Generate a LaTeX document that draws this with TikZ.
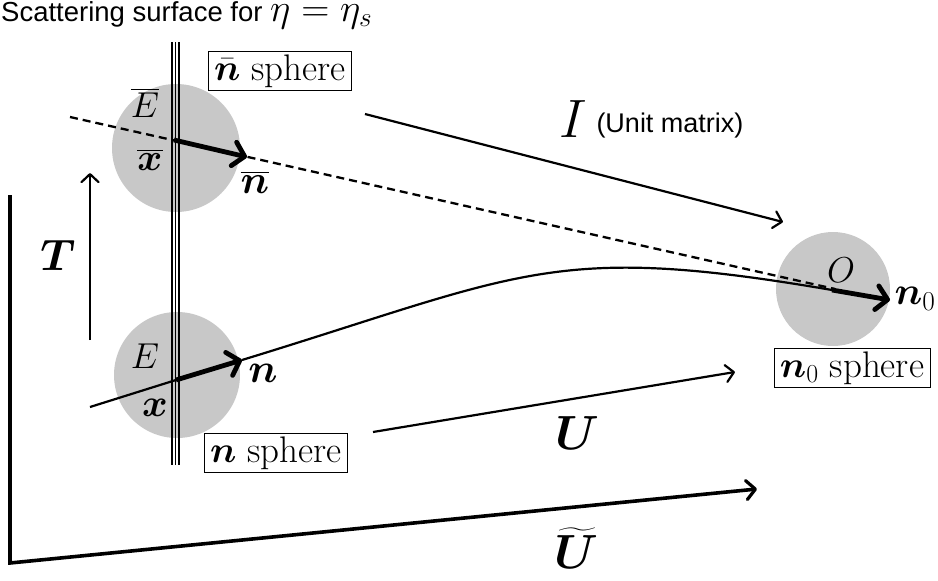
\RequirePackage{fix-cm}
\documentclass[tikz,border=0pt]{standalone}
\usepackage{amsmath,bm}
\usepackage{fontspec}
\newfontfamily\hel{Liberation Sans}
\usetikzlibrary{arrows.meta}
\newcommand\fs[1]{\fontsize{#1}{#1}\selectfont}
\definecolor{spheregray}{RGB}{200,200,200}
\tikzset{
  sphere/.style={circle,fill=spheregray,draw=none,inner sep=0pt},
  lbl/.style={inner sep=0pt},
  boxlbl/.style={draw,line width=0.8pt,inner xsep=6pt,inner ysep=3pt,font=\fs{37}},
  thin arrow/.style={line width=2.2pt,-{Straight Barb[round,length=8pt,width=17pt,line width=2.2pt]}},
  thick arrow/.style={line width=4.8pt,-{Straight Barb[round,length=11pt,width=24pt,line width=4.8pt]}},
  surface/.style={line width=1.7pt},
}
\begin{document}
\begin{tikzpicture}[x=1pt,y=-1pt]
\useasboundingbox (0,0) rectangle (938,581);
% spheres
\node[sphere,minimum size=128pt] (s1) at (176,148) {};
\node[sphere,minimum size=126pt] (s2) at (177,375) {};
\node[sphere,minimum size=114pt] (s0) at (833,289) {};
% scattering surface (triple line)
\coordinate (st1) at (172,42); \coordinate (sb1) at (172,465);
\coordinate (st2) at (175.5,42); \coordinate (sb2) at (175.5,465);
\coordinate (st3) at (179,42); \coordinate (sb3) at (179,465);
\draw[surface] (st1) -- (sb1);
\draw[surface] (st2) -- (sb2);
\draw[surface] (st3) -- (sb3);
% title
\node[anchor=base west,inner sep=0pt,font=\hel\fs{27.5}] (title) at (1,21) {Scattering surface for {\fs{39}$\eta=\eta_s$}};
% boxes
\node[boxlbl] (nbarbox) at (280,71) {$\bar{\bm n}$ sphere};
\node[boxlbl] (nbox) at (276,453) {$\bm n$ sphere};
\node[boxlbl] (n0box) at (852,368) {$\bm n_0$ sphere};
% dashed line
\coordinate (dstart) at (70,117);
\coordinate (dend) at (835,289);
\draw[line width=2.3pt,dash pattern=on 8pt off 5pt] (dstart) -- (dend);
% n-bar arrow
\coordinate (xbar) at (174,140);
\coordinate (nbar) at (247,157);
\draw[thick arrow] (xbar) -- (nbar);
% curve
\coordinate (cstart) at (90,407);
\coordinate (xpt) at (176,380);
\coordinate (npt) at (242,360);
\coordinate (opt) at (832,290);
\coordinate (n0pt) at (890,300);
\draw[line width=2.2pt] (cstart) -- (xpt);
\draw[line width=2.2pt] (npt) .. controls (523,274) and (552,242) .. (opt);
\draw[thick arrow] (xpt) -- (npt);
\draw[thick arrow] (opt) -- (n0pt);
% labels
\node[lbl,font=\fs{36}] (Ebar) at (145,103) {$\overline{E}$};
\node[lbl,font=\fs{38}] (xbarl) at (150,160) {$\overline{\bm x}$};
\node[lbl,font=\fs{40}] (nbarl) at (255,182) {$\overline{\bm n}$};
\node[lbl,font=\fs{36}] (El) at (145,356) {$E$};
\node[lbl,font=\fs{39}] (xl) at (155,408) {$\bm x$};
\node[lbl,font=\fs{41}] (nl) at (263,373) {$\bm n$};
\node[lbl,font=\fs{36}] (Ol) at (841,270) {$O$};
\node[lbl,font=\fs{39}] (n0l) at (915,299) {$\bm n_0$};
% I arrow
\coordinate (Is) at (365,114);
\coordinate (Ie) at (783,222);
\draw[thin arrow] (Is) -- (Ie);
\node[lbl,font=\fs{54}] (Il) at (573,119) {$I$};
\node[lbl,font=\hel\fs{27}] (unit) at (670,126) {(Unit matrix)};
% U arrow
\coordinate (Us) at (373,432);
\coordinate (Ue) at (735,372);
\draw[thin arrow] (Us) -- (Ue);
\node[lbl,font=\fs{48}] (Ul) at (577,433) {$\bm U$};
% T arrow
\coordinate (Ts) at (90,340);
\coordinate (Te) at (90,173);
\draw[thin arrow] (Ts) -- (Te);
\node[lbl,font=\fs{44}] (Tl) at (58,255) {$\bm T$};
% U tilde
\coordinate (Lt) at (10,195);
\coordinate (Lc) at (10,563);
\coordinate (Le) at (757,489);
\draw[line width=3.6pt,line join=miter,-{Straight Barb[round,length=9pt,width=19pt,line width=3.2pt]}] (Lt) -- (Lc) -- (Le);
\node[lbl,font=\fs{48}] (Utl) at (576,548) {$\widetilde{\bm U}$};
\end{tikzpicture}
\end{document}
